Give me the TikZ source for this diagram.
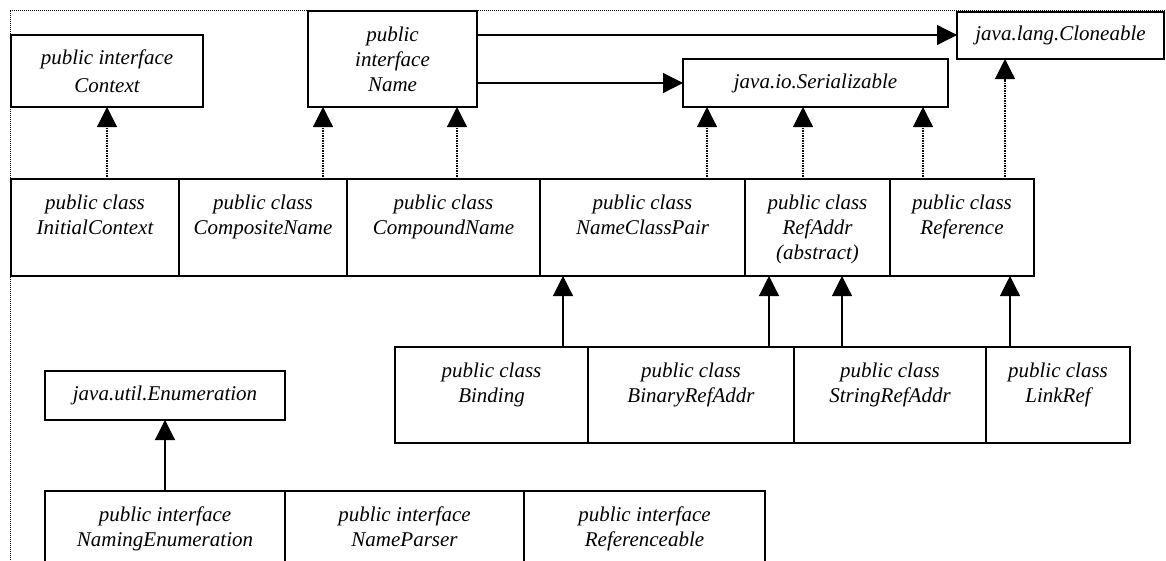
\documentclass[tikz,border=0pt]{standalone}
\usepackage{fontspec}
\setmainfont{Liberation Serif}
\usetikzlibrary{arrows.meta,fit,calc}

\tikzset{
  box/.style={draw, line width=1.2pt, inner sep=0pt, outer sep=0pt},
  lbl/.style={font=\itshape\fontsize{21}{25}\selectfont, align=center, inner sep=0pt},
  toplbl/.style={lbl, anchor=north},
  realize/.style={line width=1.2pt, dash pattern=on 1.2pt off 1.3pt,
    -{Triangle[length=20pt,width=20pt]}},
  inherit/.style={line width=1.2pt, -{Triangle[length=20pt,width=20pt]}},
  frame/.style={line width=1pt, dash pattern=on 1pt off 1pt},
}

% \umlbox{name}{x1}{y1}{x2}{y2}: an empty class box spanning the given corners
\newcommand{\umlbox}[5]{\node[box, fit={(#2,#3) (#4,#5)}] (#1) {};}

\begin{document}
\begin{tikzpicture}[x=1pt, y=-1pt]
\useasboundingbox (0,0) rectangle (1166,560);
\clip (0,0) rectangle (1166,560);
\fill[white] (0,0) rectangle (1166,560);

% package frame
\draw[frame] (10,560) -- (10,10) -- (1166,10);

% interfaces at the top
\umlbox{ctx}{11}{35}{203}{107}
\node[lbl, font=\itshape\fontsize{21}{28}\selectfont] (ctx-t) at (ctx.center) {public interface\\Context};
\umlbox{nm}{308}{11}{477}{107}
\node[lbl] (nm-t) at (nm.center) {public\\interface\\Name};
\umlbox{ser}{683}{59}{948}{107}
\node[lbl] (ser-t) at (ser.center) {java.io.Serializable};
\umlbox{clo}{957}{12}{1164}{59}
\node[lbl] (clo-t) at (clo.center) {java.lang.Cloneable};

% classes of the second row
\umlbox{ic}{11}{179}{179}{276}
\node[toplbl] (ic-t) at ([yshift=-16pt]ic.north) {public class\\InitialContext};
\umlbox{cpn}{179}{179}{347}{276}
\node[toplbl] (cpn-t) at ([yshift=-16pt]cpn.north) {public class\\CompositeName};
\umlbox{cdn}{347}{179}{540}{276}
\node[toplbl] (cdn-t) at ([yshift=-16pt]cdn.north) {public class\\CompoundName};
\umlbox{ncp}{540}{179}{745}{276}
\node[toplbl] (ncp-t) at ([yshift=-16pt]ncp.north) {public class\\NameClassPair};
\umlbox{ra}{745}{179}{890}{276}
\node[toplbl] (ra-t) at ([yshift=-16pt]ra.north) {public class\\RefAddr\\(abstract)};
\umlbox{ref}{890}{179}{1034}{276}
\node[toplbl] (ref-t) at ([yshift=-16pt]ref.north) {public class\\Reference};

% subclasses of the third row
\umlbox{bd}{395}{347}{588}{443}
\node[toplbl] (bd-t) at ([yshift=-16pt]bd.north) {public class\\Binding};
\umlbox{bra}{588}{347}{794}{443}
\node[toplbl] (bra-t) at ([yshift=-16pt]bra.north) {public class\\BinaryRefAddr};
\umlbox{sra}{794}{347}{986}{443}
\node[toplbl] (sra-t) at ([yshift=-16pt]sra.north) {public class\\StringRefAddr};
\umlbox{lr}{986}{347}{1130}{443}
\node[toplbl] (lr-t) at ([yshift=-16pt]lr.north) {public class\\LinkRef};

% enumeration and the interfaces of the last row
\umlbox{enum}{45}{371}{285}{420}
\node[lbl] (enum-t) at (enum.center) {java.util.Enumeration};
\umlbox{ne}{45}{491}{285}{590}
\node[toplbl] (ne-t) at ([yshift=-16pt]ne.north) {public interface\\NamingEnumeration};
\umlbox{np}{285}{491}{524}{590}
\node[toplbl] (np-t) at ([yshift=-16pt]np.north) {public interface\\NameParser};
\umlbox{rf}{524}{491}{765}{590}
\node[toplbl] (rf-t) at ([yshift=-16pt]rf.north) {public interface\\Referenceable};

% Name extends Cloneable and Serializable
\draw[inherit] (nm.east |- 0,35) -- (clo.west |- 0,35);
\draw[inherit] (nm.east |- 0,83) -- (ser.west |- 0,83);

% implemented interfaces
\draw[realize] (ic.north -| ctx.south) -- (ctx.south);
\draw[realize] (cpn.north -| 323,0) -- (nm.south -| 323,0);
\draw[realize] (cdn.north -| 457,0) -- (nm.south -| 457,0);
\draw[realize] (ncp.north -| 707,0) -- (ser.south -| 707,0);
\draw[realize] (ra.north -| 803,0) -- (ser.south -| 803,0);
\draw[realize] (ref.north -| 923,0) -- (ser.south -| 923,0);
\draw[realize] (ref.north -| 1005,0) -- (clo.south -| 1005,0);

% subclass relations
\draw[inherit] (bd.north -| 563,0) -- (ncp.south -| 563,0);
\draw[inherit] (bra.north -| 769,0) -- (ra.south -| 769,0);
\draw[inherit] (sra.north -| 842,0) -- (ra.south -| 842,0);
\draw[inherit] (lr.north -| 1010,0) -- (ref.south -| 1010,0);
\draw[inherit] (ne.north -| enum.south) -- (enum.south);
\end{tikzpicture}
\end{document}
